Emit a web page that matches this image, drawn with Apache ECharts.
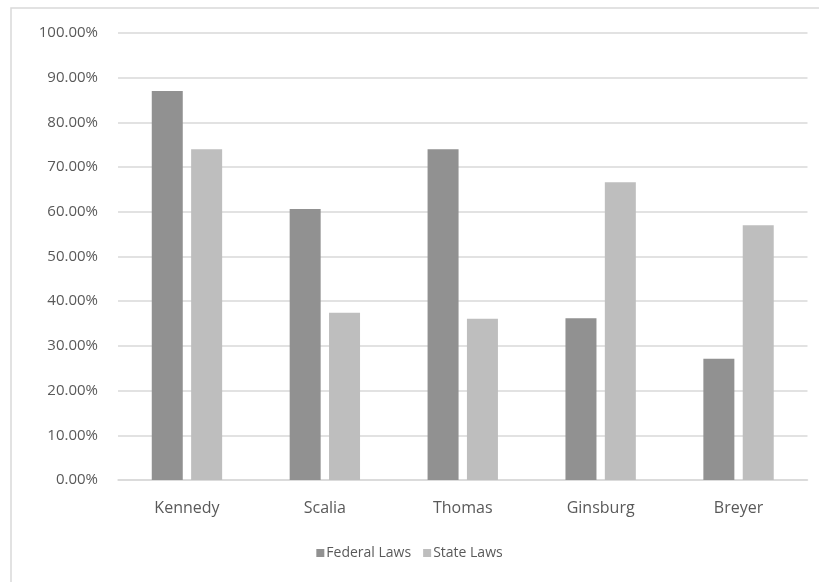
<!DOCTYPE html>
<html>
<head>
<meta charset="utf-8">
<script src="https://cdn.jsdelivr.net/npm/echarts@6/dist/echarts.min.js"></script>
<style>
  html, body { margin: 0; padding: 0; background: #ffffff; }
  #chart { width: 819px; height: 582px; }
</style>
</head>
<body>
<div id="chart"></div>
<script>
// Share of laws voted to strike down, by justice
const justices = ['Kennedy', 'Scalia', 'Thomas', 'Ginsburg', 'Breyer'];
const federalLaws = [87.0, 60.6, 74.0, 36.2, 27.1];
const stateLaws = [74.0, 37.4, 36.1, 66.6, 57.0];

const textColor = '#595959';
const gridColor = '#d9d9d9';
const fontFamily = '"Open Sans", "Liberation Sans", sans-serif';

const chart = echarts.init(document.getElementById('chart'), null, { renderer: 'canvas' });

chart.setOption({
  animation: false,
  backgroundColor: '#ffffff',
  textStyle: { fontFamily: fontFamily, color: textColor },
  graphic: [{
    type: 'rect',
    shape: { x: 11, y: 8, width: 830, height: 600 },
    style: { fill: 'none', stroke: gridColor, lineWidth: 1.5 },
    silent: true,
    z: -10
  }],
  grid: { left: 118, right: 11.5, top: 33, bottom: 102, containLabel: false },
  legend: {
    data: ['Federal Laws', 'State Laws'],
    left: 'center',
    top: 541,
    itemWidth: 8,
    itemHeight: 8,
    itemGap: 12,
    icon: 'rect',
    textStyle: { fontFamily: fontFamily, fontSize: 14, color: textColor, padding: [0, 0, 0, -3] }
  },
  xAxis: {
    type: 'category',
    data: justices,
    axisLine: { lineStyle: { color: gridColor, width: 1.5 } },
    axisTick: { show: false },
    axisLabel: { fontFamily: fontFamily, fontSize: 16, color: textColor, margin: 20 }
  },
  yAxis: {
    type: 'value',
    min: 0,
    max: 100,
    interval: 10,
    axisLine: { show: false },
    axisTick: { show: false },
    axisLabel: {
      fontFamily: fontFamily, fontSize: 15, color: textColor, margin: 20,
      formatter: v => v.toFixed(2) + '%'
    },
    splitLine: { lineStyle: { color: gridColor, width: 1.5 } }
  },
  series: [
    {
      name: 'Federal Laws',
      type: 'bar',
      data: federalLaws,
      barWidth: 31,
      barGap: '27%',
      itemStyle: { color: '#919191' }
    },
    {
      name: 'State Laws',
      type: 'bar',
      data: stateLaws,
      barWidth: 31,
      barGap: '27%',
      itemStyle: { color: '#bebebe' }
    }
  ]
});
</script>
</body>
</html>
